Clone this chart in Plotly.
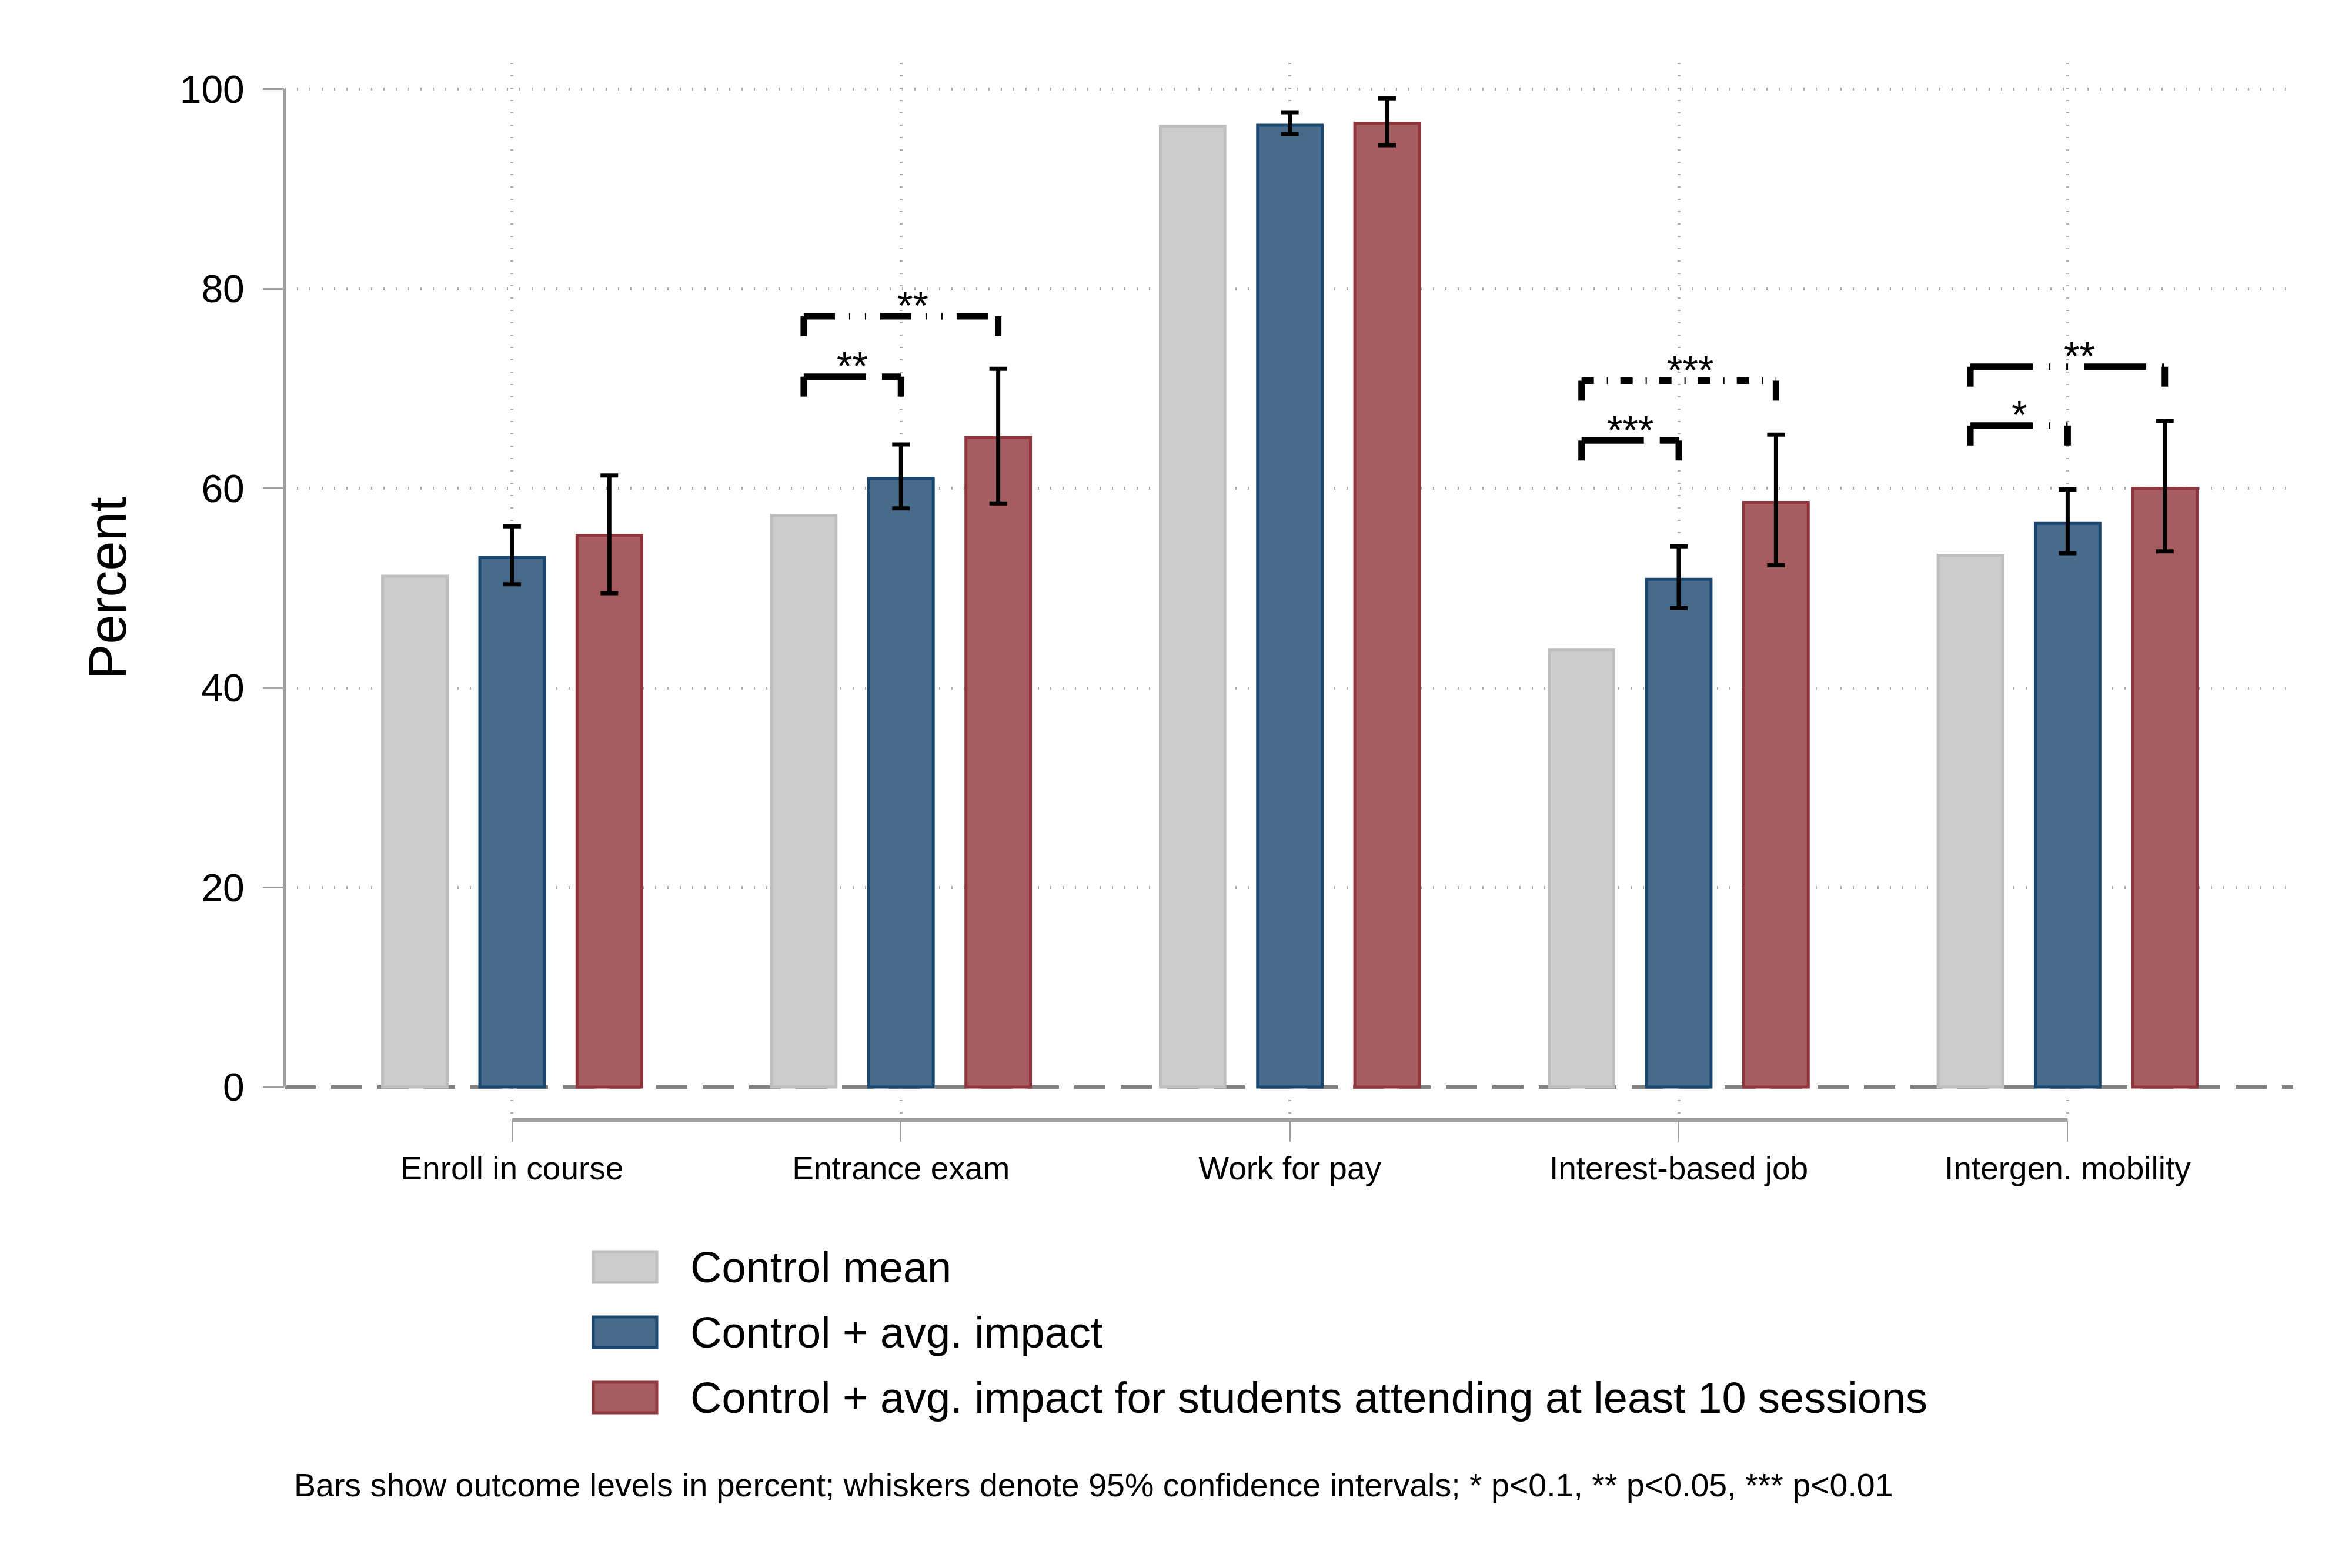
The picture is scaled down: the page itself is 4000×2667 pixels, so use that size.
import plotly.graph_objects as go

# ---------------- data ----------------
categories = ["Enroll in course", "Entrance exam", "Work for pay",
              "Interest-based job", "Intergen. mobility"]
series_names = ["Control mean", "Control + avg. impact",
                "Control + avg. impact for students attending at least 10 sessions"]

control_mean = [51.2, 57.3, 96.3, 43.8, 53.3]
avg_impact = [53.1, 61.0, 96.4, 50.9, 56.5]
avg_impact_lo = [50.4, 58.0, 95.5, 48.0, 53.5]
avg_impact_hi = [56.2, 64.4, 97.7, 54.2, 59.9]
ten_sessions = [55.3, 65.1, 96.6, 58.6, 60.0]
ten_sessions_lo = [49.5, 58.5, 94.4, 52.3, 53.7]
ten_sessions_hi = [61.3, 72.0, 99.1, 65.4, 66.8]

# significance brackets: category index, compared series index, level, stars
bracket_cat = [1, 1, 3, 3, 4, 4]
bracket_series = [1, 2, 1, 2, 1, 2]
bracket_level = [71.2, 77.25, 64.8, 70.8, 66.3, 72.2]
bracket_stars = ["**", "**", "***", "***", "*", "**"]

y_ticks = [0, 20, 40, 60, 80, 100]
footnote = ("Bars show outcome levels in percent; whiskers denote 95% confidence "
            "intervals; * p<0.1, ** p<0.05, *** p<0.01")

# ---------------- styles / layout constants ----------------
FONT = "Liberation Sans, Arial, Helvetica, sans-serif"
W, H = 4000, 2667
PL, PR, PT, PB = 484, 3900, 107, 1905       # plot area in pixels
offsets = [-0.25, 0.0, 0.25]
bar_w = 0.166
fills = ["#CCCCCC", "#486B8B", "#A65D61"]
edges = ["#BEBEBE", "#1A476F", "#90353B"]
bracket_dash = ["106px,27px", "53px,24px,2px,25px,2px,24px",
                "106px,27px", "21px,22px,2px,21px",
                "106px,27px,3px,27px,3px,27px", "106px,27px,3px,27px,3px,27px"]
GRID = "#ABABAB"
AXIS = "#A0A0A0"


def px_x(p):
    return (p - PL) / (PR - PL)


def px_y(p):
    return (PB - p) / (PB - PT)


values = [control_mean, avg_impact, ten_sessions]
errs = [None,
        (avg_impact_lo, avg_impact_hi),
        (ten_sessions_lo, ten_sessions_hi)]

fig = go.Figure()

for s in range(3):
    xs = [i + offsets[s] for i in range(len(categories))]
    kw = {}
    if errs[s] is not None:
        lo, hi = errs[s]
        kw["error_y"] = dict(type="data", symmetric=False,
                             array=[h - v for h, v in zip(hi, values[s])],
                             arrayminus=[v - l for v, l in zip(values[s], lo)],
                             color="black", thickness=7, width=15)
    fig.add_trace(go.Bar(x=xs, y=values[s], width=bar_w, name=series_names[s],
                         marker=dict(color=fills[s], line=dict(color=edges[s], width=5)),
                         showlegend=False, **kw))

# brackets
for b in range(len(bracket_cat)):
    c = bracket_cat[b]
    x0 = c + offsets[0]
    x1 = c + offsets[bracket_series[b]]
    yl = bracket_level[b]
    fig.add_trace(go.Scatter(x=[x0, x1], y=[yl, yl], mode="lines",
                             line=dict(color="black", width=11, dash=bracket_dash[b]),
                             showlegend=False, hoverinfo="skip"))
    for xx in (x0, x1):
        fig.add_trace(go.Scatter(x=[xx, xx], y=[yl, yl - 2.0], mode="lines",
                                 line=dict(color="black", width=11),
                                 showlegend=False, hoverinfo="skip"))
    shift = 0.03 if bracket_series[b] == 2 else 0.0
    fig.add_annotation(x=(x0 + x1) / 2 + shift, y=yl + 1.1, xref="x", yref="y",
                       text=bracket_stars[b], showarrow=False,
                       xanchor="center", yanchor="middle",
                       font=dict(family=FONT, size=68, color="black"))

# dummy trace for grid overlay axis
fig.add_trace(go.Scatter(x=[None], y=[None], yaxis="y2", showlegend=False))

yr = [-3.3, 102.65]
fig.update_layout(
    width=W, height=H,
    margin=dict(l=PL, r=W - PR, t=PT, b=H - PB, pad=0),
    paper_bgcolor="white", plot_bgcolor="white",
    font=dict(family=FONT, color="black"),
    xaxis=dict(range=[-0.585, 4.58], tickvals=list(range(len(categories))),
               ticktext=categories, showline=False, zeroline=False,
               showgrid=True, gridcolor=GRID, gridwidth=5, griddash="2px,19px",
               ticks="outside", ticklen=36, tickwidth=2, tickcolor=AXIS,
               tickfont=dict(family=FONT, size=55, color="black"),
               ticklabelstandoff=-2),
    yaxis=dict(range=yr, tickvals=y_ticks, showgrid=False, zeroline=False,
               showline=False, ticks="outside", ticklen=36, tickwidth=3,
               tickcolor=AXIS, tickfont=dict(family=FONT, size=66, color="black"),
               ticklabelstandoff=18),
    yaxis2=dict(range=yr, overlaying="y", tickvals=y_ticks[1:], showgrid=True,
                gridcolor=GRID, gridwidth=5, griddash="2px,19px",
                showticklabels=False, ticks="", zeroline=False, showline=False),
)

# axis lines and zero line
fig.add_shape(type="line", xref="paper", yref="y", x0=0, x1=0, y0=0, y1=100,
              line=dict(color=AXIS, width=6), layer="above")
fig.add_shape(type="line", xref="x", yref="paper", x0=0, x1=len(categories) - 1,
              y0=0, y1=0, line=dict(color=AXIS, width=6), layer="above")
fig.add_shape(type="line", xref="paper", yref="y", x0=0, x1=1, y0=0, y1=0,
              line=dict(color="#808080", width=6, dash="53px,26px"), layer="between")

# y title
fig.add_annotation(x=px_x(183), y=50, xref="paper", yref="y", text="Percent",
                   textangle=-90, showarrow=False, xanchor="center", yanchor="middle",
                   font=dict(family=FONT, size=90, color="black"))

# manual legend
row_y = [2155, 2266, 2377]
for s in range(3):
    fig.add_shape(type="rect", xref="paper", yref="paper",
                  x0=px_x(1009), x1=px_x(1117),
                  y0=px_y(row_y[s] + 26), y1=px_y(row_y[s] - 26),
                  fillcolor=fills[s], line=dict(color=edges[s], width=5))
    fig.add_annotation(x=px_x(1172), y=px_y(row_y[s]), xref="paper", yref="paper",
                       text=series_names[s], showarrow=False,
                       xanchor="left", yanchor="middle",
                       font=dict(family=FONT, size=74, color="black"))

fig.add_annotation(x=px_x(498), y=px_y(2526), xref="paper", yref="paper",
                   text=footnote, showarrow=False, xanchor="left", yanchor="middle",
                   font=dict(family=FONT, size=55.5, color="black"))

fig.write_html("out.html")
